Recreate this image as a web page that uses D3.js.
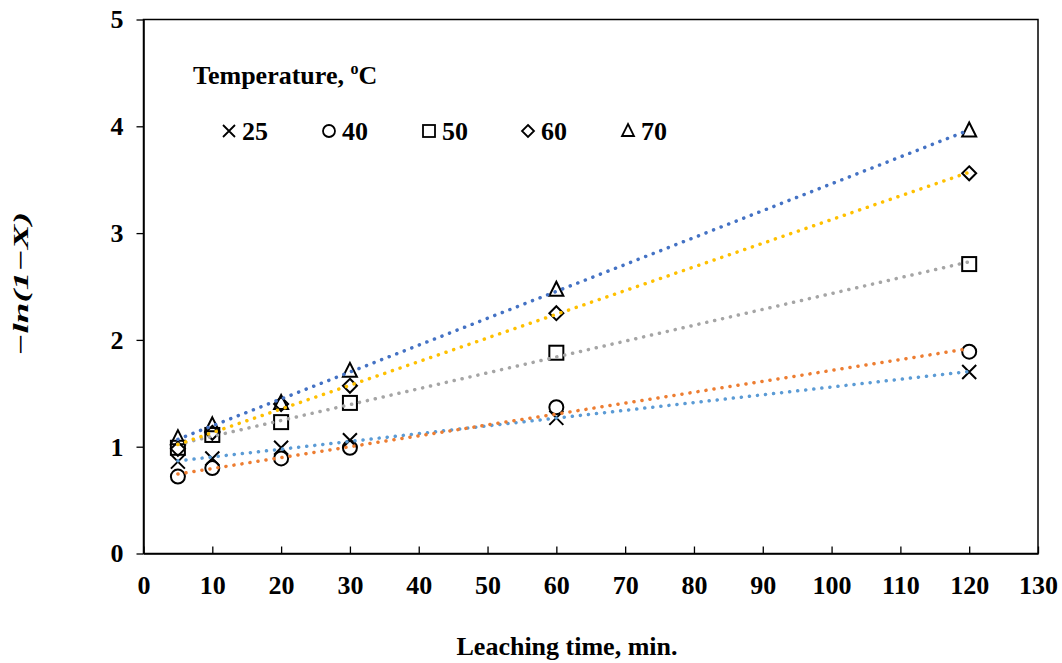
<!DOCTYPE html>
<html>
<head>
<meta charset="utf-8">
<script src="https://cdn.jsdelivr.net/npm/d3@7"></script>
<style>
  body { margin: 0; background: #fff; }
  text { font-family: "Liberation Serif", "Times New Roman", serif; font-weight: bold; }
</style>
</head>
<body>
<svg id="chart"></svg>
<script>
const times = [5, 10, 20, 30, 60, 120]
const temps = ["25", "40", "50", "60", "70"]
const t25 = [0.86, 0.89, 0.99, 1.06, 1.27, 1.70]
const t40 = [0.72, 0.80, 0.89, 0.99, 1.37, 1.89]
const t50 = [0.99, 1.11, 1.23, 1.41, 1.88, 2.71]
const t60 = [0.98, 1.13, 1.40, 1.57, 2.25, 3.56]
const t70 = [1.08, 1.20, 1.41, 1.71, 2.47, 3.96]
const xTicks = [0, 10, 20, 30, 40, 50, 60, 70, 80, 90, 100, 110, 120, 130]
const yTicks = [0, 1, 2, 3, 4, 5]

const width = 1062, height = 663
const margin = { left: 143.5, right: 24, top: 19.5, bottom: 109.5 }
const fontSize = 26

const series = [
    { name: "25", values: t25, shape: "cross", color: "#5b9bd5" },
    { name: "40", values: t40, shape: "circle", color: "#ed7d31" },
    { name: "50", values: t50, shape: "square", color: "#a5a5a5" },
    { name: "60", values: t60, shape: "diamond", color: "#ffc000" },
    { name: "70", values: t70, shape: "triangle", color: "#4472c4" }
]

const svg = d3.select("#chart")
    .attr("width", width)
    .attr("height", height)

const x = d3.scaleLinear().domain([0, 130]).range([margin.left, width - margin.right])
const y = d3.scaleLinear().domain([0, 5]).range([height - margin.bottom, margin.top])

// plot area border
svg.append("rect")
    .attr("x", x(0)).attr("y", y(5))
    .attr("width", x(130) - x(0)).attr("height", y(0) - y(5))
    .attr("fill", "none").attr("stroke", "#000").attr("stroke-width", 1.5)

// x axis, ticks pointing inward
const xAxis = svg.append("g")
    .attr("transform", `translate(0,${y(0)})`)
    .call(d3.axisBottom(x).tickValues(xTicks).tickSizeInner(-7).tickSizeOuter(0).tickPadding(22))
xAxis.select(".domain").attr("stroke-width", 1.5)
xAxis.selectAll("line").attr("stroke-width", 1.3)
xAxis.selectAll("text").attr("font-size", fontSize).attr("fill", "#000")

// y axis, ticks pointing outward
const yAxis = svg.append("g")
    .attr("transform", `translate(${x(0)},0)`)
    .call(d3.axisLeft(y).tickValues(yTicks).tickFormat(d3.format("d")).tickSizeInner(7).tickSizeOuter(0).tickPadding(13))
yAxis.select(".domain").attr("stroke-width", 1.5)
yAxis.selectAll("line").attr("stroke-width", 1.3)
yAxis.selectAll("text").attr("font-size", fontSize).attr("fill", "#000")

// marker shapes
function drawMarker(g, shape, cx, cy, s) {
    if (shape === "cross") {
        g.append("path").attr("d", `M${cx - s},${cy - s}L${cx + s},${cy + s}M${cx - s},${cy + s}L${cx + s},${cy - s}`)
    } else if (shape === "circle") {
        g.append("circle").attr("cx", cx).attr("cy", cy).attr("r", s)
    } else if (shape === "square") {
        g.append("rect").attr("x", cx - s).attr("y", cy - s).attr("width", 2 * s).attr("height", 2 * s)
    } else if (shape === "diamond") {
        g.append("path").attr("d", `M${cx},${cy - s}L${cx + s},${cy}L${cx},${cy + s}L${cx - s},${cy}Z`)
    } else if (shape === "triangle") {
        g.append("path").attr("d", `M${cx},${cy - s - 1}L${cx + s},${cy + s - 1}L${cx - s},${cy + s - 1}Z`)
    }
}

const markers = svg.append("g")
    .attr("fill", "none").attr("stroke", "#000").attr("stroke-width", 2)

series.forEach(s => {
    s.values.forEach((v, i) => drawMarker(markers, s.shape, x(times[i]), y(v), 7))
})

// linear trend lines (least squares fit of each series)
function fit(xs, ys) {
    const mx = d3.mean(xs), my = d3.mean(ys)
    const b = d3.sum(xs, (d, i) => (d - mx) * (ys[i] - my)) / d3.sum(xs, d => (d - mx) ** 2)
    return { a: my - b * mx, b: b }
}

const trends = svg.append("g")
series.forEach(s => {
    const f = fit(times, s.values)
    const x0 = d3.min(times), x1 = d3.max(times)
    trends.append("line")
        .attr("x1", x(x0)).attr("y1", y(f.a + f.b * x0))
        .attr("x2", x(x1)).attr("y2", y(f.a + f.b * x1))
        .attr("stroke", s.color)
        .attr("stroke-width", 3.5)
        .attr("stroke-linecap", "round")
        .attr("stroke-dasharray", "0.1 8")
})

// legend
const title = svg.append("text")
    .attr("x", 193).attr("y", 84)
    .attr("font-size", fontSize)
title.append("tspan").text("Temperature, ")
title.append("tspan").attr("font-size", 16).attr("dy", -10).text("o")
title.append("tspan").attr("dy", 10).text("C")

const legendX = [229, 329, 429, 528, 628]
const legend = svg.append("g")
series.forEach((s, i) => {
    const lg = legend.append("g").attr("fill", "none").attr("stroke", "#000").attr("stroke-width", 1.8)
    drawMarker(lg, s.shape, legendX[i], 131, 6)
    legend.append("text")
        .attr("x", legendX[i] + 13).attr("y", 140)
        .attr("font-size", fontSize)
        .text(temps[i])
})

// axis titles
svg.append("text")
    .attr("x", 567).attr("y", 655)
    .attr("text-anchor", "middle")
    .attr("font-size", fontSize)
    .text("Leaching time, min.")

svg.append("text")
    .attr("transform", `translate(28,284) rotate(-90)`)
    .attr("text-anchor", "middle")
    .attr("font-size", 22)
    .attr("font-style", "italic")
    .attr("textLength", 144)
    .attr("lengthAdjust", "spacingAndGlyphs")
    .text("\u2212ln(1\u2212X)")
</script>
</body>
</html>
